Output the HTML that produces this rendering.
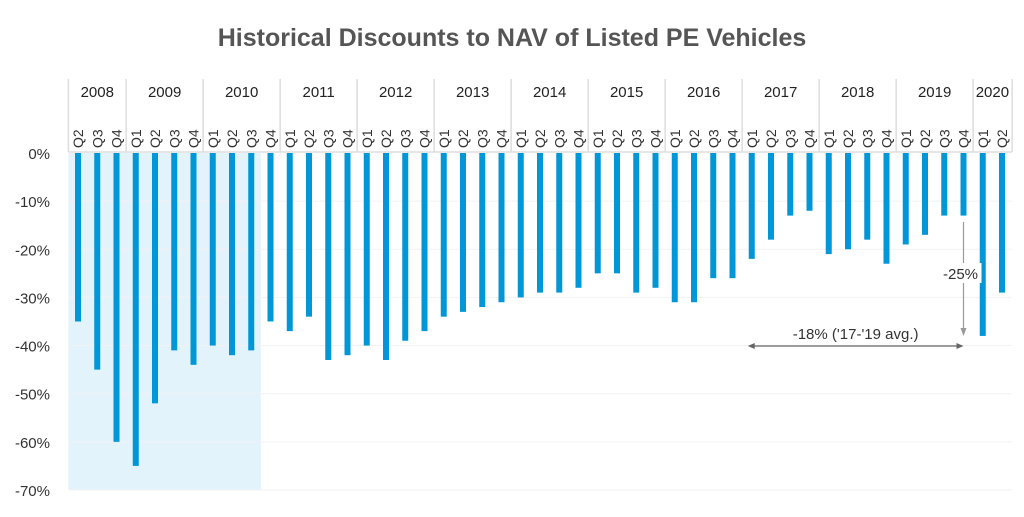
<!DOCTYPE html>
<html><head><meta charset="utf-8"><style>
body{margin:0;background:#fff;font-family:"Liberation Sans",sans-serif}
svg text{font-family:"Liberation Sans",sans-serif}
</style></head><body>
<svg id="c" width="1024" height="512" xmlns="http://www.w3.org/2000/svg">
<text x="512" y="46" text-anchor="middle" font-size="25" font-weight="bold" fill="#555">Historical Discounts to NAV of Listed PE Vehicles</text>
<g id="g"></g>
</svg>
<script>
const years=["2008","2009","2010","2011","2012","2013","2014","2015","2016","2017","2018","2019","2020"];
const quarters=["Q2","Q3","Q4","Q1","Q2","Q3","Q4","Q1","Q2","Q3","Q4","Q1","Q2","Q3","Q4","Q1","Q2","Q3","Q4","Q1","Q2","Q3","Q4","Q1","Q2","Q3","Q4","Q1","Q2","Q3","Q4","Q1","Q2","Q3","Q4","Q1","Q2","Q3","Q4","Q1","Q2","Q3","Q4","Q1","Q2","Q3","Q4","Q1","Q2"];
const yearOf=[0,0,0,1,1,1,1,2,2,2,2,3,3,3,3,4,4,4,4,5,5,5,5,6,6,6,6,7,7,7,7,8,8,8,8,9,9,9,9,10,10,10,10,11,11,11,11,12,12];
const values=[-35,-45,-60,-65,-52,-41,-44,-40,-42,-41,-35,-37,-34,-43,-42,-40,-43,-39,-37,-34,-33,-32,-31,-30,-29,-29,-28,-25,-25,-29,-28,-31,-31,-26,-26,-22,-18,-13,-12,-21,-20,-18,-23,-19,-17,-13,-13,-38,-29];
const yTicks=[0,-10,-20,-30,-40,-50,-60,-70];
const shadeEnd=10;
const g=document.getElementById('g');
const NS="http://www.w3.org/2000/svg";
const x0=78,step=19.25,y0=153,pp=48.14;
const X=i=>x0+i*step, Y=v=>y0-v*pp/10;
function mk(t,a){const e=document.createElementNS(NS,t);for(const k in a)e.setAttribute(k,a[k]);g.appendChild(e);return e;}
let e;
e=mk('rect',{x:X(0)-9.6,y:y0,width:X(shadeEnd)-9.6-(X(0)-9.6),height:Y(-70)-y0,fill:'#e3f3fb'});


yTicks.forEach(t=>{
 if(t<0){e=mk('line',{x1:X(0)-9.6,x2:X(values.length-1)+10,y1:Y(t),y2:Y(t),stroke:'#f2f2f2'});
 
 }
 e=mk('text',{x:50,y:Y(t)+6,'text-anchor':'end','font-size':15,fill:'#333'});e.textContent=t+'%';
 
 
});
values.forEach((v,i)=>{
 e=mk('rect',{x:X(i)-3,y:y0,width:6,height:Y(v)-y0,fill:'#0097d8'});
 
 
 e=mk('text',{transform:`translate(${X(i)+5},148) rotate(-90)`,'font-size':14,fill:'#333'});e.textContent=quarters[i];
 
 
});
// header
e=mk('line',{x1:X(0)-9.6,x2:X(values.length-1)+10,y1:152,y2:152,stroke:'#ddd','stroke-width':1.5});


years.forEach((yr,k)=>{
 const idx=yearOf.map((y,i)=>y===k?i:-1).filter(i=>i>=0);
 const a=X(idx[0])-9.6,b=X(idx[idx.length-1])+9.6;
 e=mk('line',{x1:a,x2:a,y1:79,y2:152,stroke:'#ddd','stroke-width':1.5});
 
 
 if(k===years.length-1){e=mk('line',{x1:b+0.5,x2:b+0.5,y1:79,y2:152,stroke:'#ddd','stroke-width':1.5});
 
 }
 e=mk('text',{x:(a+b)/2,y:97,'text-anchor':'middle','font-size':15,fill:'#222'});e.textContent=yr;
 
 
});
// annotations
const ax=X(46);
e=mk('line',{x1:ax,x2:ax,y1:222,y2:332,stroke:'#999','stroke-width':1.2});


e=mk('path',{d:`M${ax-3},328 L${ax},336 L${ax+3},328Z`,fill:'#999'});


e=mk('rect',{x:ax-22,y:263,width:40,height:20,fill:'#fff'});
e=mk('text',{x:ax-3,y:279,'text-anchor':'middle','font-size':15,fill:'#333'});e.textContent='-25%';


const hx1=X(35)-4,hx2=ax;
e=mk('line',{x1:hx1+5,x2:hx2-5,y1:346,y2:346,stroke:'#666','stroke-width':1.2});


mk('path',{d:`M${hx1+7},343 L${hx1},346 L${hx1+7},349Z`,fill:'#666'});
mk('path',{d:`M${hx2-7},343 L${hx2},346 L${hx2-7},349Z`,fill:'#666'});
e=mk('text',{x:(hx1+hx2)/2,y:339,'text-anchor':'middle','font-size':15,fill:'#333'});e.textContent="-18% ('17-'19 avg.)";


</script>
</body></html>
